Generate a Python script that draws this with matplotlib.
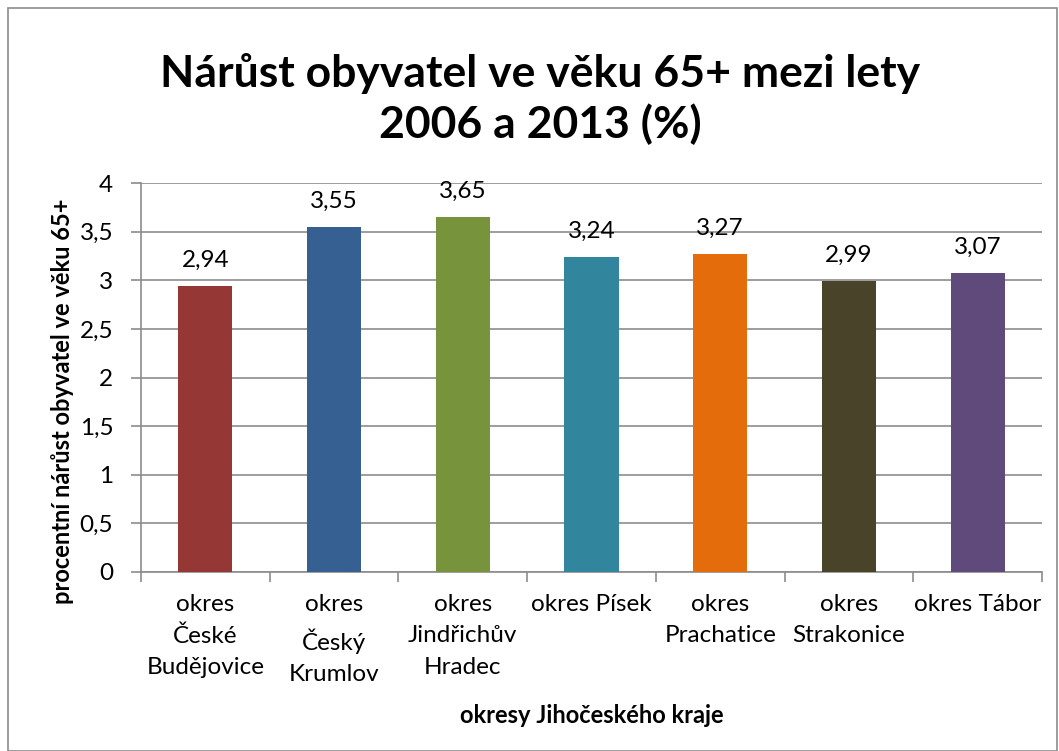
import matplotlib
matplotlib.use("Agg")
import matplotlib.pyplot as plt
from matplotlib.patches import Rectangle
from matplotlib.ticker import FixedLocator, NullFormatter

plt.rcParams['font.family'] = ['Lato', 'DejaVu Sans']

categories = ["okres\nČeské\nBudějovice", "okres\nČeský\nKrumlov", "okres\nJindřichův\nHradec",
              "okres Písek", "okres\nPrachatice", "okres\nStrakonice", "okres Tábor"]
values = [2.94, 3.55, 3.65, 3.24, 3.27, 2.99, 3.07]
value_labels = ["2,94", "3,55", "3,65", "3,24", "3,27", "2,99", "3,07"]
colors = ["#953735", "#376092", "#77933C", "#31859C", "#E46C0A", "#494429", "#604A7B"]
y_ticks = [0, 0.5, 1, 1.5, 2, 2.5, 3, 3.5, 4]
y_tick_labels = ["0", "0,5", "1", "1,5", "2", "2,5", "3", "3,5", "4"]

title = "Nárůst obyvatel ve věku 65+ mezi lety\n2006 a 2013 (%)"
ylabel = "procentní nárůst obyvatel ve věku 65+"
xlabel = "okresy Jihočeského kraje"

fig = plt.figure(figsize=(10.59, 7.51), dpi=100)
ax = fig.add_axes([141/1059, 1 - 572/751, (1042-141)/1059, (572-183)/751])

x = list(range(len(categories)))
bars = ax.bar(x, values, width=0.42, color=colors, zorder=3)

ax.set_xlim(-0.5, len(categories) - 0.5)
ax.set_ylim(0, 4)
ax.set_yticks(y_ticks)
ax.set_yticklabels(y_tick_labels, fontsize=17.5)
ax.yaxis.grid(True, color="#8c8c8c", linewidth=1.2, zorder=0)

ax.set_xticks(x)
ax.set_xticklabels(categories, fontsize=17.5, linespacing=1.6, va="top")
ax.tick_params(axis='x', length=0, pad=16)
ax.xaxis.set_minor_locator(FixedLocator([i - 0.5 for i in range(len(categories) + 1)]))
ax.xaxis.set_minor_formatter(NullFormatter())
ax.tick_params(axis='x', which='minor', length=7, width=1.2, color="#8c8c8c", direction='out')
ax.tick_params(axis='y', length=7, width=1.2, color="#8c8c8c", direction='out', pad=13)

for s in ["top", "right"]:
    ax.spines[s].set_visible(False)
for s in ["left", "bottom"]:
    ax.spines[s].set_color("#8c8c8c")
    ax.spines[s].set_linewidth(1.2)

for xi, v, lab in zip(x, values, value_labels):
    ax.annotate(lab, (xi, v), xytext=(0, 11), textcoords="offset points",
                ha="center", va="bottom", fontsize=17.5)

ax.set_ylabel(ylabel, fontsize=17, fontweight="bold")
ax.yaxis.set_label_coords(-0.074, 0.44)
ax.set_xlabel(xlabel, fontsize=17, fontweight="bold", labelpad=14)

fig.text(540/1059, 1 - 99/751, title, ha="center", va="center", fontsize=32,
         fontweight="bold", linespacing=1.25)

fig.patches.append(Rectangle((8/1059, 0), (1057-8)/1059, 1 - 8/751, transform=fig.transFigure,
                             fill=False, edgecolor="#8c8c8c", linewidth=1.2))

fig.savefig("out.png", dpi=100, facecolor="white")
